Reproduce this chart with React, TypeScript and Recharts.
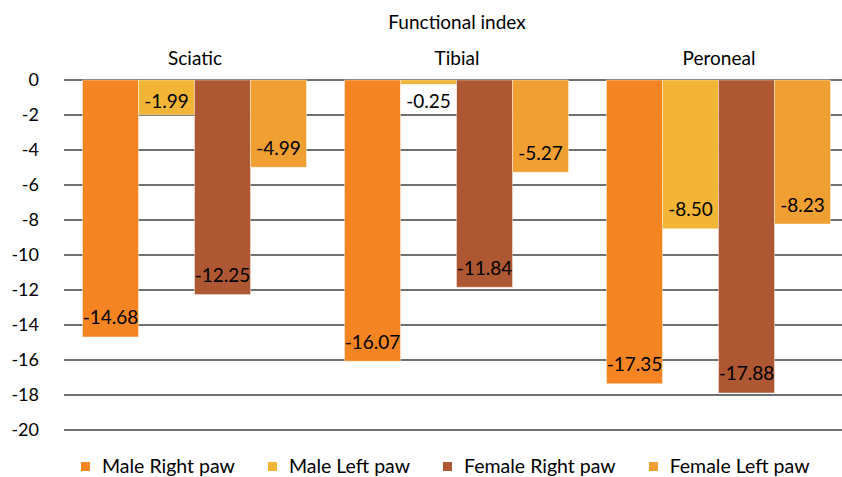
import React from 'react';
import { BarChart, Bar, XAxis, YAxis, CartesianGrid, Legend, LabelList } from 'recharts';

const categories = ['Sciatic', 'Tibial', 'Peroneal'];
const maleRight = [-14.68, -16.07, -17.35];
const maleLeft = [-1.99, -0.25, -8.5];
const femaleRight = [-12.25, -11.84, -17.88];
const femaleLeft = [-4.99, -5.27, -8.23];
const yTicks = [0, -2, -4, -6, -8, -10, -12, -14, -16, -18, -20];

const series = [
  { key: 'maleRight', name: 'Male Right paw', color: '#F58523' },
  { key: 'maleLeft', name: 'Male Left paw', color: '#F2B535' },
  { key: 'femaleRight', name: 'Female Right paw', color: '#AD5733' },
  { key: 'femaleLeft', name: 'Female Left paw', color: '#F09F33' },
];

const data = categories.map((c, i) => ({
  category: c,
  maleRight: maleRight[i],
  maleLeft: maleLeft[i],
  femaleRight: femaleRight[i],
  femaleLeft: femaleLeft[i],
}));

const FONT = 'Lato, "Noto Sans", sans-serif';

// value label sitting near the far end of the bar, like Excel's "inside end"
const EndLabel = (props: any) => {
  const { x, y, width, height, value } = props;
  if (value == null) return null;
  const top = Math.min(y, y + height);
  const bottom = Math.max(y, y + height);
  const cy = Math.max(bottom - 20, top + 20);
  const small = bottom - top < 26;
  return (
    <g>
      {small && <rect x={x} y={bottom} width={width} height={top + 33 - bottom} fill="#ffffff" />}
      <text
        x={x + width / 2}
        y={cy}
        textAnchor="middle"
        dominantBaseline="central"
        fontSize={19}
        fontFamily={FONT}
        fill="#000"
      >
        {Number(value).toFixed(2)}
      </text>
    </g>
  );
};

const LegendBox = () => (
  <div
    style={{
      height: 47,
      display: 'flex',
      alignItems: 'flex-end',
      paddingLeft: 81,
      fontFamily: FONT,
      fontSize: 19.5,
      color: '#000',
      boxSizing: 'border-box',
    }}
  >
    {series.map((s) => (
      <div key={s.key} style={{ display: 'flex', alignItems: 'center', marginRight: 33, lineHeight: '22px' }}>
        <span style={{ width: 9, height: 9, background: s.color, display: 'inline-block', marginRight: 12 }} />
        <span>{s.name}</span>
      </div>
    ))}
  </div>
);

export default function App() {
  return (
    <div style={{ position: 'absolute', left: 0, top: 0, width: 842, height: 477, overflow: 'hidden', background: '#fff' }}>
      <div
        style={{
          position: 'absolute',
          top: 10,
          left: 64,
          width: 786,
          textAlign: 'center',
          fontFamily: FONT,
          fontSize: 19,
          color: '#000',
          zIndex: 2,
        }}
      >
        Functional index
      </div>
      <BarChart
        width={850}
        height={477}
        data={data}
        margin={{ top: 0, right: 0, bottom: 0, left: 0 }}
        barCategoryGap={18.5}
        barGap={0}
      >
        <CartesianGrid vertical={false} stroke="#404040" strokeWidth={1.3} />
        <XAxis
          dataKey="category"
          orientation="top"
          height={80}
          axisLine={false}
          tickLine={false}
          tickSize={0}
          tickMargin={15}
          tick={{ fontSize: 19, fontFamily: FONT, fill: '#000' }}
        />
        <YAxis
          domain={[-20, 0]}
          ticks={yTicks}
          width={64}
          axisLine={false}
          tickLine={false}
          tickSize={0}
          tickMargin={25}
          tick={{ fontSize: 18, fontFamily: FONT, fill: '#000' }}
        />
        <Legend verticalAlign="bottom" height={47} content={() => <LegendBox />} />
        {series.map((s) => (
          <Bar
            key={s.key}
            dataKey={s.key}
            name={s.name}
            fill={s.color}
            stroke="#ffffff"
            strokeWidth={0.8}
            strokeOpacity={0.5}
            isAnimationActive={false}
          >
            <LabelList dataKey={s.key} content={(p: any) => <EndLabel {...p} />} />
          </Bar>
        ))}
      </BarChart>
    </div>
  );
}
